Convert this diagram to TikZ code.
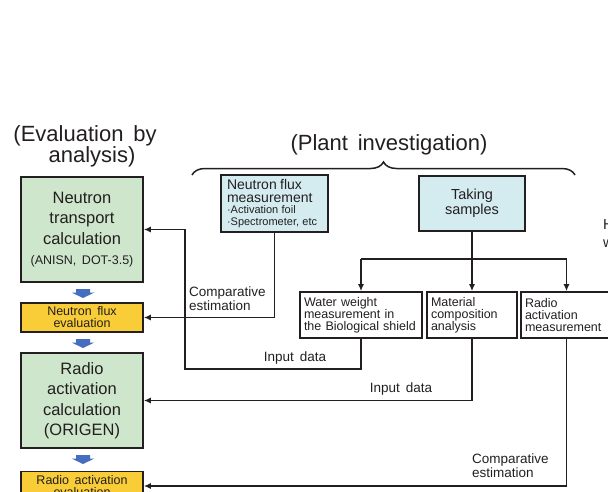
\documentclass[tikz,border=0pt]{standalone}
\usepackage{fontspec}
\setmainfont{Liberation Sans}[WordSpace=1.6]
\usetikzlibrary{arrows.meta,decorations.pathreplacing}
\definecolor{boxgreen}{RGB}{206,231,204}
\definecolor{boxyellow}{RGB}{249,205,55}
\definecolor{boxblue}{RGB}{212,236,240}
\definecolor{arrowblue}{RGB}{70,110,190}
\definecolor{ink}{RGB}{35,31,32}
\tikzset{
  box/.style={draw=ink, line width=1.6pt, inner sep=0pt, text=ink},
  evalbox/.style={box, fill=boxgreen, minimum width=122pt, align=center,
    font=\fontsize{16.5}{20.5}\selectfont},
  resbox/.style={box, fill=boxyellow, minimum width=122pt, minimum height=29pt,
    align=center, font=\fontsize{12.5}{12}\selectfont},
  invbox/.style={box, fill=boxblue},
  measbox/.style={box, fill=white, minimum height=46pt, inner xsep=4pt,
    align=left, font=\fontsize{12.5}{12}\selectfont},
  conn/.style={draw=ink, line width=1.5pt},
  arr/.style={conn, -{Latex[length=7pt,width=6pt]}},
  lbl/.style={align=left, inner sep=0pt, text=ink, font=\fontsize{13.5}{14}\selectfont},
  title/.style={align=center, inner sep=0pt, text=ink, font=\fontsize{22}{21}\selectfont},
}
\begin{document}
\begin{tikzpicture}[x=1pt,y=-1pt]
\useasboundingbox (0,0) rectangle (608,491);

% titles
\node[title] (t1) at (85,146.5) {(Evaluation by\\\hspace*{14pt}analysis)};
\node[title] (t2) at (389,145) {(Plant investigation)};
\draw[conn, decorate, decoration={brace, amplitude=13pt}] (192,175) -- (575,175);

% left column
\node[evalbox, minimum height=105pt] (b1) at (82,229.5)
  {Neutron\\transport\\calculation\\{\fontsize{12.5}{14}\selectfont (ANISN, DOT-3.5)}};
\node[resbox] (b2) at (82,317.5) {Neutron flux\\evaluation};
\node[evalbox, minimum height=95pt] (b3) at (82,400.5)
  {Radio\\activation\\calculation\\(ORIGEN)};
\node[resbox] (b4) at (82,486) {Radio activation\\evaluation};

\foreach \yy in {289,339,455}{
  \fill[arrowblue] (76,\yy) -- (90,\yy) -- (90,\yy+3.5) -- (94.5,\yy+3.5)
    -- (83,\yy+9) -- (71.5,\yy+3.5) -- (76,\yy+3.5) -- cycle;
}

% plant investigation
\node[invbox, text width=95pt, inner xsep=6pt, minimum height=57pt, align=left] (nfm) at (274.5,203.5)
  {\fontsize{14}{13.5}\selectfont Neutron flux\\measurement\par
   \fontsize{11}{11}\selectfont ·Activation foil\\·Spectrometer, etc};
\node[invbox, minimum width=106pt, minimum height=55pt, align=center,
  font=\fontsize{14.5}{13}\selectfont] (ts) at (472,203.5) {Taking\\samples};

\node[measbox, text width=114pt] (ww) at (361,315)
  {Water weight\\measurement in\\the Biological shield};
\node[measbox, text width=82pt] (mca) at (472,315)
  {Material\\composition\\analysis};
\node[measbox, text width=83pt] (ram) at (566.5,315)
  {Radio\\activation\\measurement};

% partially visible text at right edge
\node[text=ink, anchor=west, inner sep=0pt, font=\fontsize{14.5}{14}\selectfont] (h1) at (603,225) {H};
\node[text=ink, anchor=west, inner sep=0pt, font=\fontsize{14.5}{14}\selectfont] (h2) at (603,244) {w};

% distribution of samples
\coordinate (split) at (472,259);
\draw[conn] (ts.south) -- (split);
\draw[conn] (split -| ww.north) -- (split -| ram.north);
\draw[arr] (split -| ww.north) -- (ww.north);
\draw[arr] (split) -- (mca.north);
\draw[arr] (split -| ram.north) -- (ram.north);

% feedback connectors
\coordinate (r1) at (185,369);
\draw[arr] (ww.south) |- (r1) |- (b1.east);
\draw[arr] (nfm.south) |- (b2.east);
\draw[arr] (mca.south) |- (b3.east);
\draw[arr] (ram.south) |- (b4.east);

% labels
\node[lbl, anchor=west] (l1) at (189,299) {Comparative\\estimation};
\node[lbl] (l2) at (295,358) {Input data};
\node[lbl] (l3) at (401,389) {Input data};
\node[lbl, anchor=west] (l4) at (472,466) {Comparative\\estimation};
\end{tikzpicture}
\end{document}
